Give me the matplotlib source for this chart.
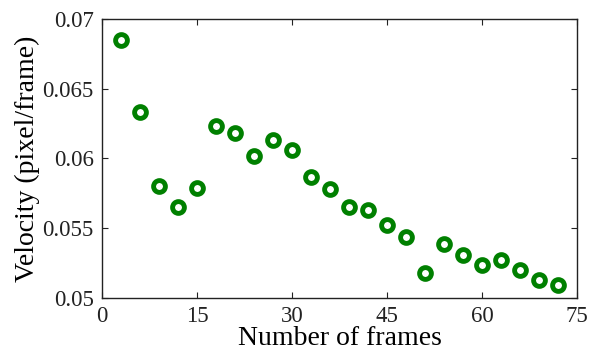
import matplotlib
matplotlib.use("Agg")
import matplotlib.pyplot as plt

frames = [3, 6, 9, 12, 15, 18, 21, 24, 27, 30, 33, 36, 39, 42, 45, 48, 51, 54, 57, 60, 63, 66, 69, 72]
velocity = [0.0685, 0.0633, 0.0580, 0.0565, 0.0579, 0.0623, 0.0618, 0.0602, 0.0613, 0.0606,
            0.0587, 0.0578, 0.0565, 0.0563, 0.0552, 0.0544, 0.0518, 0.0539, 0.0531, 0.0524,
            0.0527, 0.0520, 0.0513, 0.0509]
xticks = [0, 15, 30, 45, 60, 75]
yticks = [0.05, 0.055, 0.06, 0.065, 0.07]
ytick_labels = ["0.05", "0.055", "0.06", "0.065", "0.07"]

plt.rcParams['font.family'] = ['Liberation Serif', 'DejaVu Serif']

fig = plt.figure(figsize=(5.95, 3.51), dpi=100)
ax = fig.add_axes([0.1714, 0.151, 0.7983, 0.7949])
ax.plot(frames, velocity, linestyle='none', marker='o', markersize=8.5,
        markerfacecolor='white', markeredgecolor='#008000', markeredgewidth=3.5)
ax.set_xlim(0, 75)
ax.set_ylim(0.05, 0.07)
ax.set_xticks(xticks)
ax.set_yticks(yticks)
ax.set_yticklabels(ytick_labels)
ax.tick_params(direction='in', top=True, right=True, length=4, width=0.8,
               labelsize=16.5, colors='#222222')
ax.tick_params(axis='x', pad=6)
ax.tick_params(axis='y', pad=6)
for s in ax.spines.values():
    s.set_color('#222222')
    s.set_linewidth(1.0)
ax.set_xlabel('Number of frames', fontsize=20, labelpad=-1)
ax.set_ylabel('Velocity (pixel/frame)', fontsize=20, labelpad=2)
fig.savefig('out.png', dpi=100)
